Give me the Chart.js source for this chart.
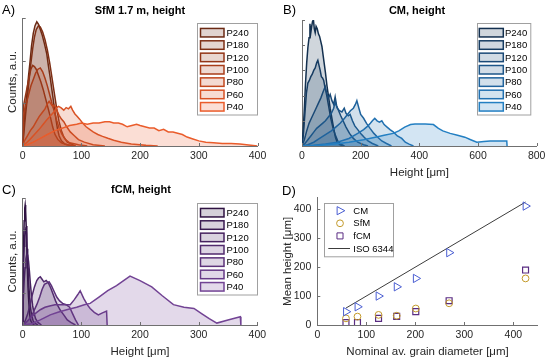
<!DOCTYPE html>
<html lang="en">
<head>
<meta charset="UTF-8">
<title>Grit height distributions</title>
<script src="https://cdn.jsdelivr.net/npm/chart.js"></script>
<style>
  body { margin: 0; background: #fff; font-family: "Liberation Sans", Arial, sans-serif; }
  #wrap { position: relative; width: 550px; height: 361px; overflow: hidden; }
  canvas { position: absolute; }
  .tag { position: absolute; font-size: 13px; line-height: 13px; color: #000; }
  .ttl { position: absolute; font-size: 11px; line-height: 11px; font-weight: bold; color: #000; text-align: center; white-space: nowrap; }
</style>
</head>
<body>
<div id="wrap">
  <canvas id="cA" width="275" height="180" style="left:0;top:0"></canvas>
  <canvas id="cB" width="275" height="180" style="left:275px;top:0"></canvas>
  <canvas id="cC" width="275" height="181" style="left:0;top:180px"></canvas>
  <canvas id="cD" width="275" height="181" style="left:275px;top:180px"></canvas>

  <div class="tag" style="left:2px;top:3px">A)</div>
  <div class="tag" style="left:283px;top:3px">B)</div>
  <div class="tag" style="left:2px;top:183px">C)</div>
  <div class="tag" style="left:282px;top:184px">D)</div>

  <div class="ttl" style="left:40px;width:200px;top:5px">SfM 1.7 m, height</div>
  <div class="ttl" style="left:317px;width:200px;top:5px">CM, height</div>
  <div class="ttl" style="left:41px;width:200px;top:184px">fCM, height</div>
</div>

<script>
// grit classes, legend order
const grits = ['P240', 'P180', 'P120', 'P100', 'P80', 'P60', 'P40'];

// A) SfM 1.7 m - height histograms, [height um, counts a.u.]
const sfmP240 = [[0,0],[1.5,0.12],[4,0.28],[7,0.4],[10,0.55],[12.5,0.66],[15,0.78],[18,0.88],[21,0.94],[24,0.97],[27,0.95],[30,0.91],[33,0.87],[37,0.8],[41,0.72],[44,0.62],[47,0.53],[50,0.43],[53,0.33],[56,0.23],[59,0.14],[62,0.08],[66,0.04],[72,0.015],[85,0]];
const sfmP180 = [[0,0],[2,0.1],[5,0.25],[8,0.38],[11,0.52],[14,0.65],[17,0.76],[20,0.85],[23,0.91],[27,0.94],[30,0.93],[34,0.89],[38,0.83],[42,0.75],[46,0.65],[50,0.53],[54,0.41],[58,0.29],[62,0.19],[66,0.12],[70,0.07],[76,0.03],[90,0]];
const sfmP120 = [[0,0],[0.5,0.25],[2,0.33],[5,0.4],[8,0.47],[11,0.54],[14,0.6],[17,0.63],[20,0.62],[23,0.6],[27,0.55],[31,0.5],[35,0.44],[39,0.37],[43,0.3],[47,0.23],[51,0.15],[55,0.09],[60,0.05],[66,0.025],[75,0.01],[90,0]];
const sfmP100 = [[0,0],[1,0.2],[3,0.28],[6,0.33],[10,0.4],[14,0.47],[18,0.52],[22,0.57],[26,0.6],[30,0.61],[34,0.58],[38,0.53],[42,0.47],[46,0.4],[50,0.33],[54,0.27],[58,0.2],[62,0.14],[67,0.09],[73,0.05],[80,0.025],[95,0.01],[110,0]];
const sfmP80 = [[0,0],[3,0.04],[8,0.08],[13,0.12],[18,0.15],[23,0.19],[28,0.23],[33,0.26],[38,0.29],[42,0.33],[45,0.35],[48,0.33],[51,0.31],[54,0.32],[58,0.28],[62,0.24],[66,0.21],[70,0.19],[75,0.15],[81,0.11],[88,0.08],[95,0.05],[105,0.03],[120,0.01],[140,0]];
const sfmP60 = [[0,0],[5,0.02],[12,0.05],[20,0.09],[28,0.13],[35,0.17],[42,0.21],[48,0.24],[54,0.27],[58,0.3],[61,0.31],[65,0.3],[70,0.28],[74,0.3],[78,0.29],[82,0.31],[85,0.28],[89,0.25],[93,0.23],[97,0.21],[102,0.18],[108,0.15],[114,0.13],[120,0.11],[128,0.09],[136,0.075],[145,0.06],[155,0.045],[168,0.03],[185,0.015],[210,0.005],[230,0]];
const sfmP40 = [[0,0],[8,0.01],[18,0.03],[30,0.06],[42,0.09],[55,0.12],[68,0.14],[80,0.16],[92,0.17],[100,0.18],[110,0.17],[120,0.18],[130,0.18],[140,0.19],[148,0.19],[155,0.18],[163,0.18],[170,0.17],[178,0.15],[186,0.16],[194,0.17],[200,0.16],[208,0.15],[216,0.14],[224,0.14],[232,0.12],[240,0.13],[248,0.11],[256,0.11],[264,0.1],[272,0.09],[280,0.07],[290,0.055],[300,0.04],[312,0.03],[325,0.025],[340,0.02],[355,0.02],[370,0.015],[385,0.008],[400,0]];

// B) CM
const cmP240 = [[0,0],[4,0.12],[8,0.3],[12,0.5],[16,0.66],[20,0.78],[24,0.86],[27,0.97],[30,0.9],[33,0.95],[36,0.99],[39,1.0],[42,0.93],[45,0.9],[48,0.95],[52,0.93],[56,0.89],[60,0.87],[64,0.83],[68,0.79],[72,0.72],[76,0.65],[80,0.58],[85,0.48],[90,0.4],[96,0.3],[102,0.22],[108,0.14],[114,0.07],[120,0.03],[130,0.01],[140,0]];
const cmP180 = [[0,0],[5,0.1],[10,0.26],[15,0.42],[20,0.5],[25,0.52],[30,0.55],[35,0.57],[40,0.6],[45,0.62],[50,0.66],[54,0.68],[58,0.64],[62,0.6],[66,0.55],[70,0.54],[74,0.52],[78,0.47],[82,0.43],[86,0.38],[92,0.3],[98,0.22],[105,0.15],[113,0.09],[122,0.04],[132,0.015],[145,0]];
const cmP120 = [[0,0],[8,0.05],[16,0.12],[24,0.18],[32,0.22],[40,0.26],[48,0.3],[56,0.34],[64,0.38],[72,0.43],[79,0.47],[84,0.42],[90,0.38],[96,0.41],[102,0.36],[108,0.33],[113,0.39],[118,0.32],[125,0.28],[132,0.24],[140,0.2],[150,0.15],[162,0.1],[175,0.06],[190,0.03],[210,0.01],[225,0]];
const cmP100 = [[0,0],[10,0.02],[20,0.05],[30,0.08],[40,0.11],[50,0.14],[60,0.16],[70,0.18],[80,0.2],[90,0.23],[100,0.26],[108,0.3],[113,0.35],[120,0.3],[128,0.28],[136,0.27],[144,0.3],[150,0.26],[158,0.24],[164,0.25],[172,0.2],[180,0.16],[190,0.13],[200,0.1],[212,0.07],[225,0.04],[240,0.02],[260,0]];
const cmP80 = [[0,0],[20,0.01],[40,0.03],[60,0.06],[80,0.09],[100,0.12],[115,0.15],[130,0.18],[145,0.22],[155,0.25],[165,0.28],[175,0.3],[182,0.33],[187,0.36],[194,0.3],[200,0.25],[210,0.22],[220,0.18],[232,0.14],[245,0.1],[258,0.07],[272,0.04],[288,0.02],[305,0]];
const cmP60 = [[0,0],[40,0.005],[80,0.015],[120,0.03],[160,0.06],[190,0.1],[210,0.13],[225,0.16],[233,0.18],[240,0.2],[248,0.22],[256,0.2],[264,0.19],[272,0.2],[280,0.17],[290,0.15],[300,0.13],[312,0.11],[325,0.08],[340,0.06],[352,0.03],[365,0.015],[380,0]];
const cmP40 = [[0,0],[60,0.005],[110,0.015],[160,0.03],[210,0.05],[250,0.07],[280,0.085],[311,0.1],[330,0.12],[350,0.15],[370,0.17],[385,0.175],[420,0.175],[448,0.17],[465,0.14],[480,0.12],[505,0.1],[530,0.085],[555,0.07],[575,0.05],[596,0.03],[620,0.035],[641,0.04],[670,0.04],[698,0.04],[699,0]];

// C) fCM
const fcmP240 = [[0,0],[0.5,0.4],[1.5,0.65],[2.5,0.82],[3.5,0.92],[4.2,0.945],[5,0.9],[6,0.78],[7,0.62],[8,0.45],[9,0.3],[10.5,0.17],[12,0.08],[14,0.03],[17,0.01],[20,0]];
const fcmP180 = [[0,0],[0.5,0.3],[1.5,0.5],[2.5,0.62],[3.5,0.7],[4.5,0.75],[5.5,0.77],[6.5,0.72],[7.5,0.6],[8.5,0.48],[10,0.35],[11.5,0.24],[13,0.15],[15,0.08],[18,0.03],[22,0.01],[26,0]];
const fcmP120 = [[0,0],[1,0.2],[2.5,0.35],[4,0.45],[5.5,0.52],[7,0.56],[8.5,0.55],[10,0.5],[11.5,0.42],[13,0.33],[15,0.23],[17,0.15],[19.5,0.09],[22,0.05],[26,0.02],[32,0]];
const fcmP100 = [[0,0],[4,0.03],[8,0.08],[12,0.15],[16,0.23],[20,0.3],[24,0.35],[27,0.37],[30,0.38],[33,0.36],[36,0.34],[40,0.35],[44,0.33],[48,0.29],[52,0.24],[56,0.19],[60,0.15],[65,0.11],[70,0.08],[76,0.04],[82,0.02],[90,0]];
const fcmP80 = [[0,0],[6,0.02],[12,0.05],[18,0.1],[24,0.16],[29,0.22],[33,0.28],[37,0.32],[41,0.33],[45,0.34],[49,0.31],[53,0.27],[58,0.22],[63,0.19],[68,0.17],[74,0.16],[80,0.14],[85,0.09],[90,0.04],[95,0]];
const fcmP60 = [[0,0],[8,0.03],[16,0.07],[24,0.1],[30,0.12],[38,0.14],[46,0.15],[55,0.16],[65,0.16],[75,0.16],[81,0.16],[88,0.2],[94,0.24],[98,0.27],[104,0.21],[110,0.16],[115,0.13],[122,0.1],[129,0.08],[136,0.095],[143,0.11],[144,0]];
const fcmP40 = [[0,0],[15,0.01],[30,0.04],[47,0.08],[60,0.1],[75,0.12],[92,0.14],[105,0.16],[115,0.17],[130,0.22],[145,0.27],[160,0.31],[172,0.35],[183,0.385],[200,0.35],[220,0.3],[238,0.23],[257,0.16],[275,0.14],[292,0.13],[305,0.09],[318,0.05],[331,0.015],[350,0.04],[371,0.065],[372,0]];

// D) mean height vs nominal grain diameter (P240 ... P40)
const grainDiam = [58.5, 82, 125, 162, 201, 269, 425];
const cmMean = [46, 63, 100, 132, 161, 250, 411];
const sfmMean = [23, 29, 35, 32, 57, 75, 161];
const fcmMean = [8, 8, 23, 30, 46, 84, 190];
const isoDiam = [58.5, 425];

// tick values
const ticks400 = [0, 100, 200, 300, 400];
const ticks800 = [0, 200, 400, 600, 800];

// styles
const sfmColors = ['#6b2a14', '#7e2f15', '#933517', '#a93c19', '#c2471e', '#d85225', '#ea5c2b'];
const cmColors = ['#13304f', '#163c62', '#1a4976', '#1c5689', '#1f639d', '#2171b1', '#237fc2'];
const fcmColors = ['#2f1242', '#3a1a51', '#46225f', '#512a6d', '#5c327a', '#673a87', '#724394'];
const axisColor = '#707070';
const textColor = '#262626';
const font = '"Liberation Sans", Arial, sans-serif';

Chart.defaults.font.family = font;
Chart.defaults.color = textColor;

function rgba(hex, a) {
  const n = parseInt(hex.slice(1), 16);
  return `rgba(${n >> 16},${(n >> 8) & 255},${n & 255},${a})`;
}

// MATLAB style ticks pointing into the axes
const inTicks = {
  id: 'inTicks',
  afterDraw(chart) {
    const { ctx, chartArea: a, scales } = chart;
    ctx.save();
    ctx.strokeStyle = axisColor;
    ctx.lineWidth = 1;
    ctx.beginPath();
    scales.x.ticks.forEach(t => {
      const p = Math.round(scales.x.getPixelForValue(t.value)) + 0.5;
      ctx.moveTo(p, a.bottom); ctx.lineTo(p, a.bottom - 3);
    });
    scales.y.ticks.forEach(t => {
      const p = Math.round(scales.y.getPixelForValue(t.value)) + 0.5;
      ctx.moveTo(a.left, p); ctx.lineTo(a.left + 3, p);
    });
    ctx.stroke();
    ctx.restore();
  }
};

function marker(ctx, style, r, x, y) {
  ctx.beginPath();
  if (style === 'triangle') {
    ctx.moveTo(x + r, y); ctx.lineTo(x - r * 0.6, y - r * 0.85); ctx.lineTo(x - r * 0.6, y + r * 0.85); ctx.closePath();
  } else if (style === 'rect') {
    const s = r * 0.72;
    ctx.rect(x - s, y - s, 2 * s, 2 * s);
  } else {
    ctx.arc(x, y, r, 0, Math.PI * 2);
  }
  ctx.stroke();
}

// legend box inside the axes
const boxLegend = {
  id: 'boxLegend',
  afterDraw(chart, args, o) {
    if (!o || !o.box) return;
    const ctx = chart.ctx;
    const [bx, by, bw, bh] = o.box;
    ctx.save();
    ctx.fillStyle = '#fff';
    ctx.fillRect(bx, by, bw, bh);
    ctx.strokeStyle = '#a0a0a0';
    ctx.lineWidth = 1;
    ctx.strokeRect(Math.round(bx) + 0.5, Math.round(by) + 0.5, bw, bh);
    ctx.font = o.font;
    ctx.textBaseline = 'middle';
    chart.data.datasets.forEach((ds, i) => {
      const y = o.firstY + i * o.rowH;
      if (o.kind === 'patch') {
        ctx.fillStyle = ds.backgroundColor;
        ctx.fillRect(o.patchX, y - o.patchH / 2, o.patchW, o.patchH);
        ctx.strokeStyle = ds.borderColor;
        ctx.lineWidth = 1.5;
        ctx.strokeRect(o.patchX, y - o.patchH / 2, o.patchW, o.patchH);
      } else if (ds.showLine) {
        ctx.strokeStyle = ds.borderColor;
        ctx.lineWidth = ds.borderWidth;
        ctx.beginPath(); ctx.moveTo(o.lineX0, y); ctx.lineTo(o.lineX1, y); ctx.stroke();
      } else {
        ctx.strokeStyle = ds.borderColor;
        ctx.lineWidth = 1;
        marker(ctx, ds.pointStyle, ds.pointRadius, o.markX, y);
      }
      ctx.fillStyle = '#000';
      ctx.fillText(ds.label, o.textX, y + 0.5);
    });
    ctx.restore();
  }
};

function axisTicks(list) {
  return s => { s.ticks = list.map(v => ({ value: v })); };
}

function histChart(id, series, colors, cfg) {
  return new Chart(document.getElementById(id), {
    type: 'line',
    data: {
      datasets: series.map((s, i) => ({
        label: grits[i],
        data: s.map(([x, y]) => ({ x, y })),
        borderColor: colors[i],
        backgroundColor: rgba(colors[i], 0.2),
        borderWidth: 1.5,
        pointRadius: 0,
        fill: 'origin',
        tension: 0,
        order: series.length - 1 - i
      }))
    },
    options: {
      responsive: false,
      animation: false,
      layout: { padding: cfg.pad },
      plugins: {
        legend: { display: false },
        tooltip: { enabled: false },
        boxLegend: cfg.legend
      },
      scales: {
        x: {
          type: 'linear', min: 0, max: cfg.xMax,
          afterBuildTicks: axisTicks(cfg.xTicks),
          afterFit: s => { s.height = cfg.xH; },
          grid: { display: false, drawTicks: false },
          border: { color: axisColor, width: 1 },
          ticks: { autoSkip: false, maxRotation: 0, padding: 4, font: { size: 10.5 }, color: textColor },
          title: { display: !!cfg.xTitle, text: cfg.xTitle, font: { size: 11.5 }, color: textColor, padding: { top: 0, bottom: cfg.xTitlePad } }
        },
        y: {
          type: 'linear', min: 0, max: 1,
          afterBuildTicks: axisTicks(cfg.yTicks),
          afterFit: s => { s.width = cfg.yW; },
          grid: { display: false, drawTicks: false },
          border: { color: axisColor, width: 1 },
          ticks: { display: false },
          title: { display: !!cfg.yTitle, text: cfg.yTitle, font: { size: 11.5 }, color: textColor, padding: { top: 6, bottom: 0 } }
        }
      }
    },
    plugins: [inTicks, boxLegend]
  });
}

histChart('cA', [sfmP240, sfmP180, sfmP120, sfmP100, sfmP80, sfmP60, sfmP40], sfmColors, {
  pad: { left: 0, right: 17.5, top: 18, bottom: 0 },
  xMax: 400, xTicks: ticks400, xH: 34, yW: 22.7,
  yTicks: [0, 1 / 3, 2 / 3, 1],
  yTitle: 'Counts, a.u.',
  legend: { box: [196.7, 23.3, 60, 91.5], kind: 'patch', patchX: 200.5, patchW: 23.5, patchH: 8.5, firstY: 32.7, rowH: 12.35, textX: 226.5, font: '9.5px ' + font }
});

histChart('cB', [cmP240, cmP180, cmP120, cmP100, cmP80, cmP60, cmP40], cmColors, {
  pad: { left: 0, right: 13.3, top: 20, bottom: 0 },
  xMax: 800, xTicks: ticks800, xH: 34, yW: 27,
  yTicks: [0, 0.2, 0.4, 0.6, 0.8, 1],
  xTitle: 'Height [\u03bcm]', xTitlePad: 0,
  legend: { box: [201.7, 23.3, 53.3, 91.5], kind: 'patch', patchX: 204.3, patchW: 24, patchH: 8.5, firstY: 32.7, rowH: 12.35, textX: 230, font: '9.5px ' + font }
});

histChart('cC', [fcmP240, fcmP180, fcmP120, fcmP100, fcmP80, fcmP60, fcmP40], fcmColors, {
  pad: { left: 0, right: 17.7, top: 18, bottom: 0 },
  xMax: 400, xTicks: ticks400, xH: 36, yW: 22.7,
  yTicks: [0, 0.25, 0.5, 0.75, 1],
  xTitle: 'Height [\u03bcm]', xTitlePad: 2,
  yTitle: 'Counts, a.u.',
  legend: { box: [196.7, 23.3, 60, 91.5], kind: 'patch', patchX: 200.5, patchW: 23.5, patchH: 8.5, firstY: 32.7, rowH: 12.35, textX: 226.5, font: '9.5px ' + font }
});

function pts(xs, ys) {
  return xs.map((x, i) => ({ x, y: ys[i] }));
}

new Chart(document.getElementById('cD'), {
  type: 'scatter',
  data: {
    datasets: [
      { label: 'CM', data: pts(grainDiam, cmMean), pointStyle: 'triangle', pointRotation: 90, pointRadius: 4.8,
        borderColor: '#4a5ed2', pointBorderColor: '#4a5ed2', backgroundColor: 'rgba(0,0,0,0)', pointBackgroundColor: 'rgba(0,0,0,0)', pointBorderWidth: 1 },
      { label: 'SfM', data: pts(grainDiam, sfmMean), pointStyle: 'circle', pointRadius: 3.4,
        borderColor: '#c39a2a', pointBorderColor: '#c39a2a', backgroundColor: 'rgba(0,0,0,0)', pointBackgroundColor: 'rgba(0,0,0,0)', pointBorderWidth: 1 },
      { label: 'fCM', data: pts(grainDiam, fcmMean), pointStyle: 'rect', pointRadius: 4.2,
        borderColor: '#5a2c82', pointBorderColor: '#5a2c82', backgroundColor: 'rgba(0,0,0,0)', pointBackgroundColor: 'rgba(0,0,0,0)', pointBorderWidth: 1.2 },
      { label: 'ISO 6344', type: 'line', data: pts(isoDiam, isoDiam), showLine: true, borderColor: '#3c3c3c', borderWidth: 1, pointRadius: 0, fill: false }
    ]
  },
  options: {
    responsive: false,
    animation: false,
    layout: { padding: { left: 0, right: 12.2, top: 17.7, bottom: 0 } },
    plugins: {
      legend: { display: false },
      tooltip: { enabled: false },
      boxLegend: { box: [49.3, 22.7, 69, 53.3], kind: 'mark', markX: 65, lineX0: 53.3, lineX1: 75, firstY: 30.7, rowH: 12.6, textX: 78.3, font: '9.5px ' + font }
    },
    scales: {
      x: {
        type: 'linear', min: 0, max: 450,
        afterBuildTicks: axisTicks(ticks400),
        afterFit: s => { s.height = 36; },
        grid: { display: false, drawTicks: false },
        border: { color: axisColor, width: 1 },
        ticks: { autoSkip: false, maxRotation: 0, padding: 4, font: { size: 10.5 }, color: textColor },
        title: { display: true, text: 'Nominal av. grain diameter [\u03bcm]', font: { size: 11.5 }, color: textColor, padding: { top: 0, bottom: 2 } }
      },
      y: {
        type: 'linear', min: 0, max: 440,
        afterBuildTicks: axisTicks(ticks400),
        afterFit: s => { s.width = 42.3; },
        grid: { display: false, drawTicks: false },
        border: { color: axisColor, width: 1 },
        ticks: { autoSkip: false, padding: 6, font: { size: 10.5 }, color: textColor },
        title: { display: true, text: 'Mean height [\u03bcm]', font: { size: 11.5 }, color: textColor, padding: { top: 6, bottom: 0 } }
      }
    }
  },
  plugins: [inTicks, boxLegend]
});
</script>
</body>
</html>
